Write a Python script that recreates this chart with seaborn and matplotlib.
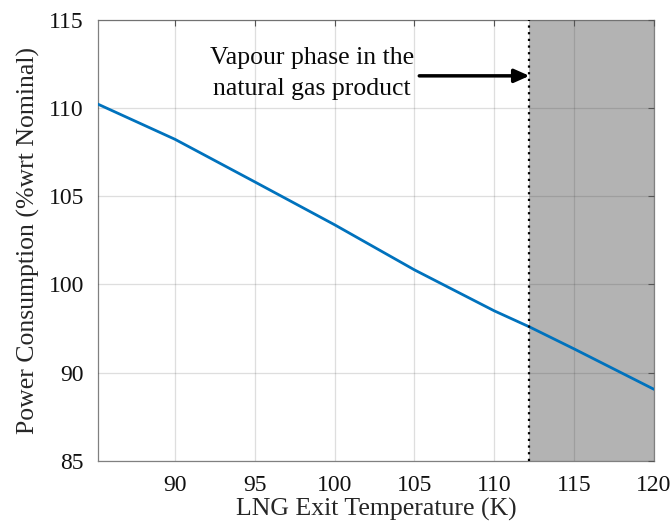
import matplotlib
matplotlib.use("Agg")
import matplotlib.pyplot as plt
import seaborn as sns
import pandas as pd
import numpy as np

# Data
temperature = [85.16, 90, 95, 100, 105, 110, 112.2, 115, 120]
power = [109.28, 106.88, 103.98, 101.06, 97.99, 95.20, 94.11, 92.61, 89.86]

vapour_start = 112.2
x_ticks = [90, 95, 100, 105, 110, 115, 120]
x_tick_labels = ["90", "95", "100", "105", "110", "115", "120"]
y_ticks = [85, 91, 97, 103, 109, 115]
y_tick_labels = ["85", "90", "100", "105", "110", "115"]
annotation = "Vapour phase in the\nnatural gas product"
x_label = "LNG Exit Temperature (K)"
y_label = "Power Consumption (%wrt Nominal)"

sns.set_style("white")
plt.rcParams['font.family'] = ['Liberation Serif', 'DejaVu Serif']

df = pd.DataFrame({"T": temperature, "P": power})

fig = plt.figure(figsize=(6.72, 5.27), dpi=100)
ax = fig.add_axes([0.1454, 0.1258, 0.9732 - 0.1454, 0.962 - 0.1258])

ax.set_xlim(85.16, 120)
ax.set_ylim(85, 115)

# Shaded vapour region
ax.axvspan(vapour_start, 120, color="#b3b3b3", zorder=0, lw=0)

ax.set_xticks(x_ticks)
ax.set_xticklabels(x_tick_labels)
ax.set_yticks(y_ticks)
ax.set_yticklabels(y_tick_labels)
ax.grid(True, color=(0.15, 0.15, 0.15), alpha=0.15, lw=0.9, zorder=1)
ax.set_axisbelow(False)

sns.lineplot(data=df, x="T", y="P", ax=ax, color="#0072BD", lw=2.0, zorder=3)

ax.axvline(vapour_start, color="black", ls=(0, (1, 2)), lw=1.6, zorder=4)

ax.annotate("", xy=(vapour_start, 111.2), xytext=(105.3, 111.2),
            arrowprops=dict(arrowstyle="-|>,head_length=0.9,head_width=0.4",
                            color="black", lw=2.5, shrinkA=0, shrinkB=0), zorder=5)
ax.text(98.57, 111.35, annotation, ha="center", va="center", fontsize=18.5,
        linespacing=1.55, color="#0a0a0a", zorder=5)

ax.set_xlabel(x_label, fontsize=18.5, labelpad=2)
ax.set_ylabel(y_label, fontsize=18.5, labelpad=6)

ax.tick_params(axis="both", which="both", direction="in", length=4,
               labelsize=17, color="#555555", top=True, right=True,
               labelcolor="#111111")
ax.tick_params(axis="x", pad=10)
ax.tick_params(axis="y", pad=10)

for s in ax.spines.values():
    s.set_visible(True)
    s.set_color("#808080")
    s.set_linewidth(0.9)

fig.savefig("out.png", dpi=100)
